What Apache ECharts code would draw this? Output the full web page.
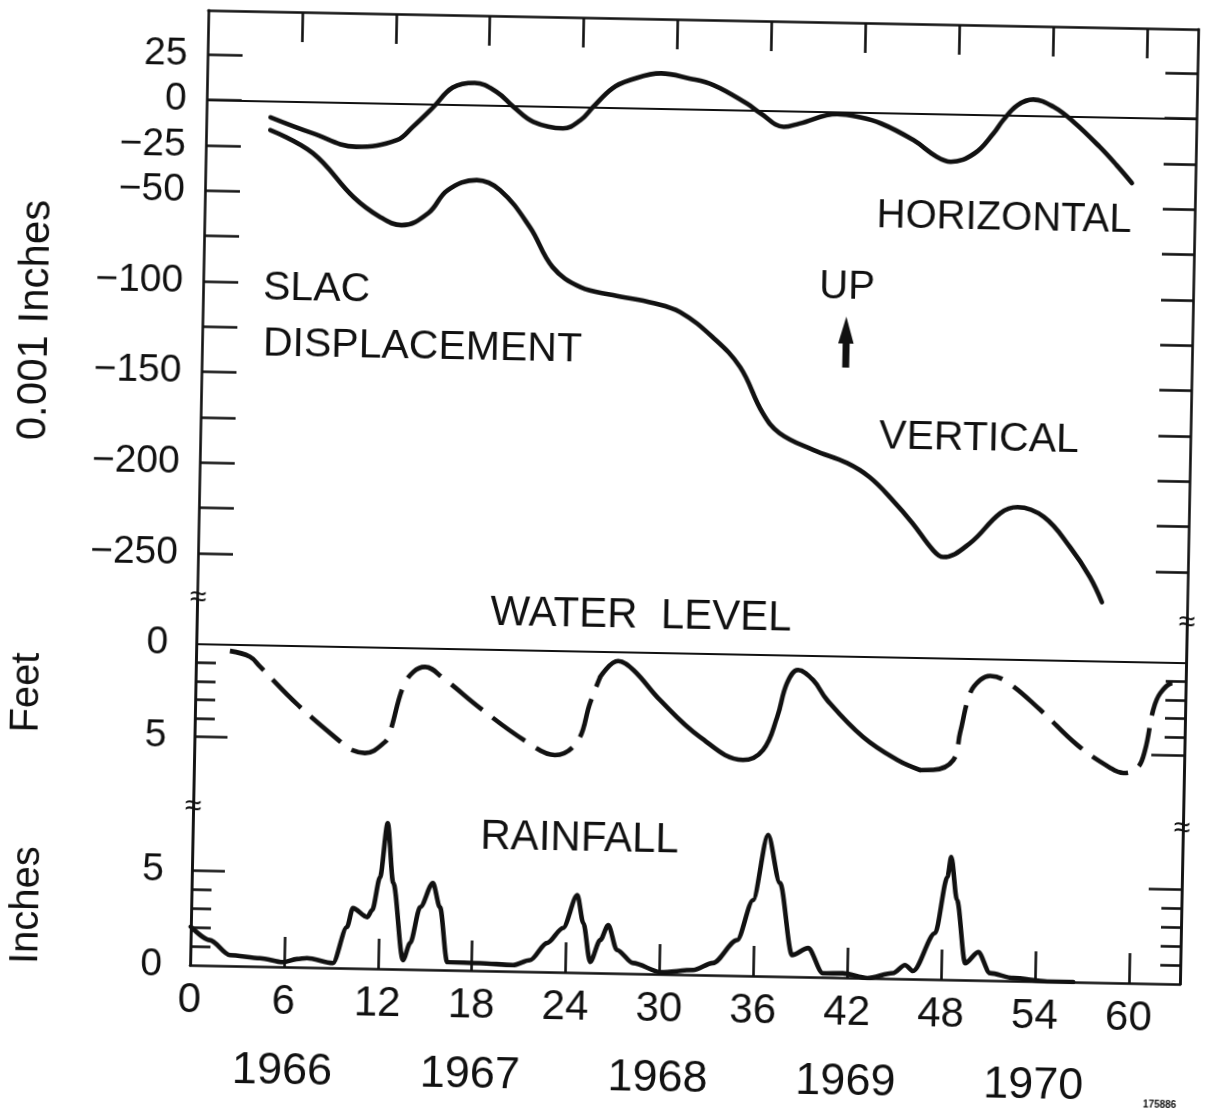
<!DOCTYPE html>
<html>
<head>
<meta charset="utf-8">
<script src="https://cdn.jsdelivr.net/npm/echarts@6/dist/echarts.min.js"></script>
<style>
html,body{margin:0;padding:0;background:#fff;overflow:hidden;}
#chart{width:1210px;height:1115px;transform:rotate(1.1deg);transform-origin:605px 557px;}
</style>
</head>
<body>
<div id="chart"></div>
<script>
// ---------- axis ticks / labels ----------
const monthTicks = [6, 12, 18, 24, 30, 36, 42, 48, 54, 60];
const monthLabels = [0, 6, 12, 18, 24, 30, 36, 42, 48, 54, 60];
const yearLabelMonths = [6, 18, 30, 42, 54];
const yearLabels = ['1966', '1967', '1968', '1969', '1970'];
const dispTicks = [25, 0, -25, -50, -75, -100, -125, -150, -175, -200, -225, -250];
const dispLabels = [25, 0, -25, -50, -100, -150, -200, -250];
const smallTicks = [1, 2, 3, 4];
const bigTicks = [5];
const levelLabels = [0, 5];

// ---------- SLAC displacement (0.001 inches) ----------
const horizMonths = [4.1, 6.8, 9.6, 12.2, 13.2, 14.5, 15.7, 17.1, 18.5, 19.6, 20.9, 22.8, 23.9, 24.7, 25.9, 27.0, 29.0, 30.8, 32.35, 34.5, 35.4, 36.9, 37.9, 40.3, 41.6, 43.1, 45.2, 46.7, 47.6, 49.1, 50.3, 50.9, 51.8, 52.8, 54.1, 55.4, 57.1, 58.2, 59.2];
const horizValues = [-8.9, -17.2, -24.2, -20.1, -12.6, -1.4, 9.5, 12.3, 7.6, -0.5, -8.6, -11.9, -7.2, 0.3, 10.7, 15.4, 19.5, 17.0, 13.6, 3.8, -1.5, -8.7, -6.7, -1.1, -2.4, -5.8, -14.7, -23.6, -26.2, -21.4, -10.1, -2.7, 5.7, 9.0, 5.2, -2.9, -16.4, -26.3, -36.0];

const vertMonths = [4.1, 6.85, 9.5, 11.2, 12.6, 14.3, 15.5, 17.35, 18.85, 20.8, 22.3, 24.1, 26.2, 28.8, 30.5, 32.6, 34.4, 35.9, 37.0, 39.2, 41.35, 42.8, 44.3, 45.6, 46.95, 47.6, 49.3, 51.2, 52.3, 54.0, 55.7, 57.0, 57.8];
const vertValues = [-15.9, -28.2, -52, -62.6, -67, -60, -47.2, -41.3, -46.6, -66.7, -88.5, -99.3, -103.3, -107.3, -112, -125.4, -141.7, -166.8, -177.7, -186.7, -193.5, -201, -213.4, -225.9, -240.6, -244.3, -236.4, -219.5, -216, -221.2, -237.5, -253.8, -267.5];

// ---------- water level (feet below surface) ----------
const waterMonths = [2.16, 3.44, 4.1, 6.57, 9.5, 10.08, 10.91, 12.18, 12.49, 13.26, 13.9, 14.64, 15.8, 18.2, 21.25, 23.05, 24.45, 25.23, 25.84, 26.97, 27.96, 29.69, 32.29, 35.07, 36.34, 37.2, 37.79, 38.47, 39.44, 40.36, 42.71, 44.92, 46.39, 47.23, 48.5, 48.9, 49.5, 50.12, 50.75, 51.85, 54.0, 56.4, 58.54, 59.37, 60.26, 60.74, 61.21, 61.65, 62.45, 62.91];
const waterFeet = [0.35, 0.64, 1.16, 3.19, 5.24, 5.56, 5.71, 5.09, 4.55, 2.11, 1.29, 1.01, 1.58, 3.16, 4.95, 5.62, 4.89, 2.78, 1.37, 0.49, 0.96, 2.55, 4.5, 5.69, 5.13, 3.34, 1.5, 0.79, 1.31, 2.37, 4.33, 5.53, 6.05, 6.03, 5.48, 4.01, 1.85, 1.14, 0.91, 1.22, 2.69, 4.54, 5.74, 6.0, 5.72, 4.74, 2.57, 1.65, 1.1, 1.31];
const waterSolidStart = 25.84;   // measured (solid) part of the record
const waterSolidEnd = 46.39;

// ---------- rainfall (inches) ----------
const rainMonths = [0, 1.23, 2.53, 4.46, 5.93, 6.82, 7.46, 9.12, 9.97, 10.33, 11.26, 11.57, 12.03, 12.45, 12.88, 13.59, 14.03, 14.63, 15.41, 15.89, 16.42, 18.51, 20.63, 21.71, 22.77, 23.78, 24.65, 25.07, 25.55, 26.17, 26.66, 27.25, 28.29, 30.08, 32.14, 33.4, 34.91, 35.88, 36.76, 37.58, 38.44, 39.46, 40.43, 41.71, 43.27, 44.91, 45.67, 46.19, 47.55, 48.27, 48.49, 48.91, 49.51, 50.33, 51.1, 52.6, 54.77, 56.43];
const rainInches = [2.03, 1.34, 0.57, 0.44, 0.25, 0.43, 0.49, 0.25, 2.17, 3.18, 2.72, 3.1, 4.85, 7.71, 4.55, 0.48, 1.39, 3.3, 4.59, 3.32, 0.42, 0.4, 0.33, 0.61, 1.53, 2.34, 4.1, 2.62, 0.57, 1.74, 2.54, 1.23, 0.56, 0.1, 0.25, 0.64, 1.88, 4.01, 7.47, 4.94, 1.14, 1.53, 0.21, 0.23, 0, 0.29, 0.73, 0.42, 2.45, 5.43, 6.49, 4.22, 0.89, 1.49, 0.39, 0.15, 0, 0];

// ---------- build ----------
const INK = '#111';
const NUM_FONT = "'Liberation Sans', Arimo, Arial, sans-serif";
const WORD_FONT = "'Liberation Sans', Arimo, Arial, sans-serif";
const zip = (xs, ys) => xs.map((x, i) => [x, ys[i]]);

const horizData = zip(horizMonths, horizValues);
const vertData = zip(vertMonths, vertValues);
const waterPts = zip(waterMonths, waterFeet);
const waterSolid = waterPts.filter(p => p[0] >= waterSolidStart && p[0] <= waterSolidEnd);
const waterDash1 = waterPts.filter(p => p[0] <= waterSolidStart);
const waterDash2 = waterPts.filter(p => p[0] >= waterSolidEnd);
const rainData = zip(rainMonths, rainInches);

const AXW = 2.6;
const lineAx = {show: true, onZero: false, lineStyle: {color: INK, width: AXW}};
function tick(len, values) {
  return {show: true, inside: true, length: len, customValues: values, lineStyle: {color: INK, width: AXW}};
}
function xAx(grid, extra) {
  return Object.assign({type: 'value', gridIndex: grid, min: 0, max: 63.25, splitLine: {show: false}}, extra);
}
function yAx(grid, pos, min, max, extra) {
  return Object.assign({type: 'value', gridIndex: grid, position: pos, min: min, max: max,
    splitLine: {show: false}, axisLine: lineAx, axisLabel: {show: false}}, extra);
}
const minusFmt = v => String(v).replace('-', '\u2212');
const numLabel = (vals, margin) => ({show: true, customValues: vals, margin: margin,
  fontSize: 39, fontFamily: NUM_FONT, color: INK, formatter: minusFmt});

const D_MIN = -276, D_MAX = 49.5;
const W_MIN = -2.35, W_MAX = 8.8;
const R_MIN = 0, R_MAX = 8.36;

const curve = {color: INK, width: 4.6, cap: 'round', join: 'round'};
const zeroMark = {silent: true, symbol: 'none', label: {show: false},
  lineStyle: {color: INK, width: 2, type: 'solid'}, emphasis: {disabled: true}, data: [{yAxis: 0}]};

function txt(text, x, y, size, extra) {
  return Object.assign({type: 'text', x: x, y: y, silent: true,
    style: Object.assign({text: text, fontSize: size, fontFamily: WORD_FONT, fill: INK,
      align: 'center', verticalAlign: 'middle'}, (extra && extra.style) || {})},
    extra && extra.rotation !== undefined ? {rotation: extra.rotation} : {});
}

const option = {
  backgroundColor: '#fff',
  animation: false,
  grid: [
    {left: 198, right: 22, top: 18, height: 590},
    {left: 198, right: 22, top: 608, height: 207},
    {left: 198, right: 22, top: 815, height: 158}
  ],
  xAxis: [
    xAx(0, {position: 'top', axisLine: lineAx, axisTick: tick(30, monthTicks), axisLabel: {show: false}}),
    xAx(1, {show: false}),
    xAx(2, {position: 'bottom', axisLine: lineAx, axisTick: tick(30, monthTicks),
      axisLabel: {show: true, customValues: monthLabels, margin: 14, fontSize: 42, fontFamily: NUM_FONT, color: INK}}),
    xAx(2, {position: 'bottom', offset: 74, axisLine: {show: false}, axisTick: {show: false},
      axisLabel: {show: true, customValues: yearLabelMonths, margin: 8, fontSize: 45, fontFamily: NUM_FONT, color: INK,
        formatter: v => yearLabels[yearLabelMonths.indexOf(v)]}})
  ],
  yAxis: [
    yAx(0, 'left', D_MIN, D_MAX, {axisTick: tick(35, dispTicks), axisLabel: numLabel(dispLabels, 20)}),
    yAx(0, 'right', D_MIN, D_MAX, {axisTick: tick(32, dispTicks)}),
    yAx(1, 'left', W_MIN, W_MAX, {inverse: true, axisTick: tick(20, smallTicks), axisLabel: numLabel(levelLabels, 28)}),
    yAx(1, 'left', W_MIN, W_MAX, {inverse: true, axisTick: tick(33, bigTicks)}),
    yAx(1, 'right', W_MIN, W_MAX, {inverse: true, axisTick: tick(20, smallTicks)}),
    yAx(1, 'right', W_MIN, W_MAX, {inverse: true, axisTick: tick(33, bigTicks)}),
    yAx(2, 'left', R_MIN, R_MAX, {axisTick: tick(20, smallTicks), axisLabel: numLabel(levelLabels, 28)}),
    yAx(2, 'left', R_MIN, R_MAX, {axisTick: tick(33, bigTicks)}),
    yAx(2, 'right', R_MIN, R_MAX, {axisTick: tick(20, smallTicks)}),
    yAx(2, 'right', R_MIN, R_MAX, {axisTick: tick(33, bigTicks)})
  ],
  series: [
    {name: 'Horizontal', type: 'line', xAxisIndex: 0, yAxisIndex: 0, data: horizData,
      smooth: 0.4, showSymbol: false, lineStyle: curve, markLine: zeroMark},
    {name: 'Vertical', type: 'line', xAxisIndex: 0, yAxisIndex: 0, data: vertData,
      smooth: 0.4, showSymbol: false, lineStyle: curve},
    {name: 'Water level', type: 'line', xAxisIndex: 1, yAxisIndex: 2, data: waterSolid,
      smooth: 0.4, showSymbol: false, lineStyle: curve, markLine: zeroMark},
    {name: 'Water level (dashed)', type: 'line', xAxisIndex: 1, yAxisIndex: 2, data: waterDash1,
      smooth: 0.4, showSymbol: false, lineStyle: Object.assign({}, curve, {type: [40, 13], cap: 'butt'})},
    {name: 'Water level (dashed) 2', type: 'line', xAxisIndex: 1, yAxisIndex: 2, data: waterDash2,
      smooth: 0.4, showSymbol: false, lineStyle: Object.assign({}, curve, {type: [40, 13], cap: 'butt'})},
    {name: 'Rainfall', type: 'line', xAxisIndex: 2, yAxisIndex: 6, data: rainData,
      smooth: 0.3, smoothMonotone: 'x', showSymbol: false, lineStyle: curve}
  ],
  graphic: [
    txt('SLAC', 258, 294.5, 41, {style: {align: 'left'}}),
    txt('DISPLACEMENT', 259, 350.5, 41, {style: {align: 'left'}}),
    txt('HORIZONTAL', 997.5, 211.3, 40),
    txt('UP', 841.8, 283.4, 40),
    {type: 'polygon', silent: true, shape: {points: [[841.7, 312], [849.5, 339], [834, 339]]}, style: {fill: INK}},
    {type: 'rect', silent: true, shape: {x: 838.5, y: 335, width: 7, height: 28}, style: {fill: INK}},
    txt('VERTICAL', 976.7, 431.3, 41),
    txt('WATER  LEVEL', 642.1, 615.3, 42),
    txt('RAINFALL', 585, 839.4, 42),
    txt('0.001 Inches', 31.4, 331, 42, {rotation: Math.PI / 2}),
    txt('Feet', 30.1, 703.6, 40, {rotation: Math.PI / 2}),
    txt('Inches', 34.2, 916.1, 40, {rotation: Math.PI / 2}),
    txt('≈', 199, 606, 30),
    txt('≈', 198, 815, 30),
    txt('≈', 1188, 612, 30),
    txt('≈', 1187, 818, 30),
    txt('175886', 1170, 1094, 10, {style: {fontWeight: 'bold'}})
  ]
};

const chart = echarts.init(document.getElementById('chart'), null, {renderer: 'canvas'});
chart.setOption(option);
</script>
</body>
</html>
